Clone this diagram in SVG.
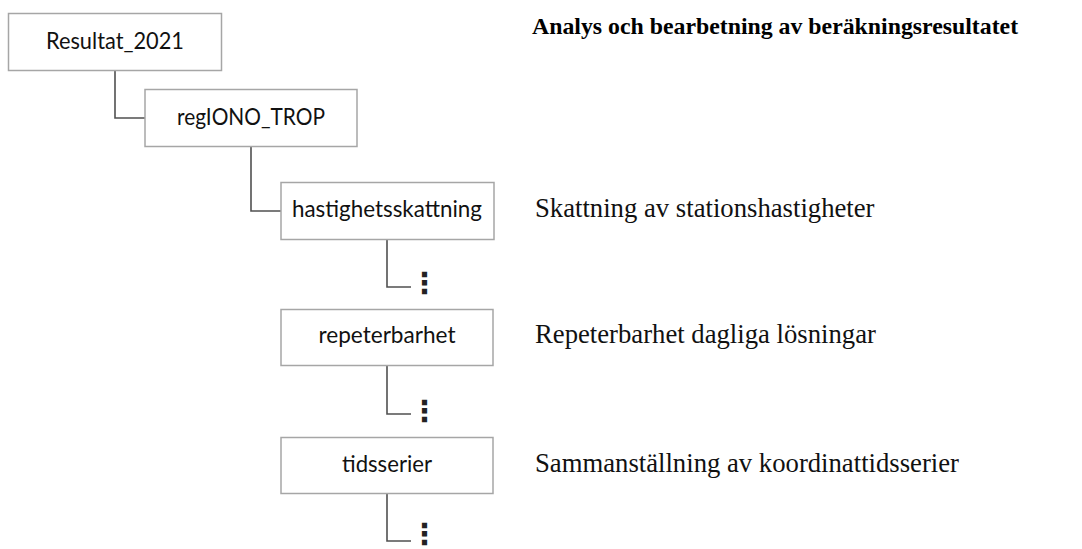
<svg xmlns="http://www.w3.org/2000/svg" width="1082" height="549" viewBox="0 0 1082 549">
<style>
.box{fill:#fff;stroke:#a6a6a6;stroke-width:1.5}
.lbl{font-family:Lato,"Liberation Sans",sans-serif;font-size:22.5px;fill:#111;text-anchor:middle}
.desc{font-family:"Liberation Serif","Times New Roman",serif;font-size:26.7px;fill:#111}
.title{font-family:"Liberation Serif","Times New Roman",serif;font-size:23.8px;font-weight:bold;fill:#000}
.con{fill:none;stroke:#505050;stroke-width:1.6}
.dots{font-family:"DejaVu Sans",sans-serif;font-size:29px;font-weight:bold;fill:#222;text-anchor:middle}
</style>
<rect width="1082" height="549" fill="#fff"/>
<g id="connectors">
<path class="con" d="M115 70 V118 H145"/>
<path class="con" d="M251 146 V211 H281"/>
<path class="con" d="M387 239 V287 H411"/>
<path class="con" d="M387 365 V414 H411"/>
<path class="con" d="M387 493 V541 H411"/>
</g>
<g id="node-resultat"><rect class="box" x="8.5" y="13.5" width="213" height="57"/><text class="lbl" x="115" y="49" textLength="138" lengthAdjust="spacingAndGlyphs">Resultat_2021</text></g>
<g id="node-regiono"><rect class="box" x="145" y="89.5" width="212" height="57"/><text class="lbl" x="251" y="125" textLength="148" lengthAdjust="spacingAndGlyphs">regIONO_TROP</text></g>
<g id="node-hastighet"><rect class="box" x="281" y="182.5" width="213" height="57"/><text class="lbl" x="387" y="217" textLength="190" lengthAdjust="spacingAndGlyphs">hastighetsskattning</text></g>
<g id="node-repeter"><rect class="box" x="281" y="309.5" width="212" height="56"/><text class="lbl" x="387" y="343" textLength="137" lengthAdjust="spacingAndGlyphs">repeterbarhet</text></g>
<g id="node-tidsserier"><rect class="box" x="281" y="437.5" width="212" height="56"/><text class="lbl" x="387" y="472" textLength="90" lengthAdjust="spacingAndGlyphs">tidsserier</text></g>
<g id="dots">
<text class="dots" x="424.5" y="293">⋮</text>
<text class="dots" x="424.5" y="421">⋮</text>
<text class="dots" x="424.5" y="544">⋮</text>
</g>
<g id="texts">
<text class="title" x="532" y="34">Analys och bearbetning av beräkningsresultatet</text>
<text class="desc" x="535" y="217">Skattning av stationshastigheter</text>
<text class="desc" x="535" y="343">Repeterbarhet dagliga lösningar</text>
<text class="desc" x="535" y="472">Sammanställning av koordinattidsserier</text>
</g>
</svg>
